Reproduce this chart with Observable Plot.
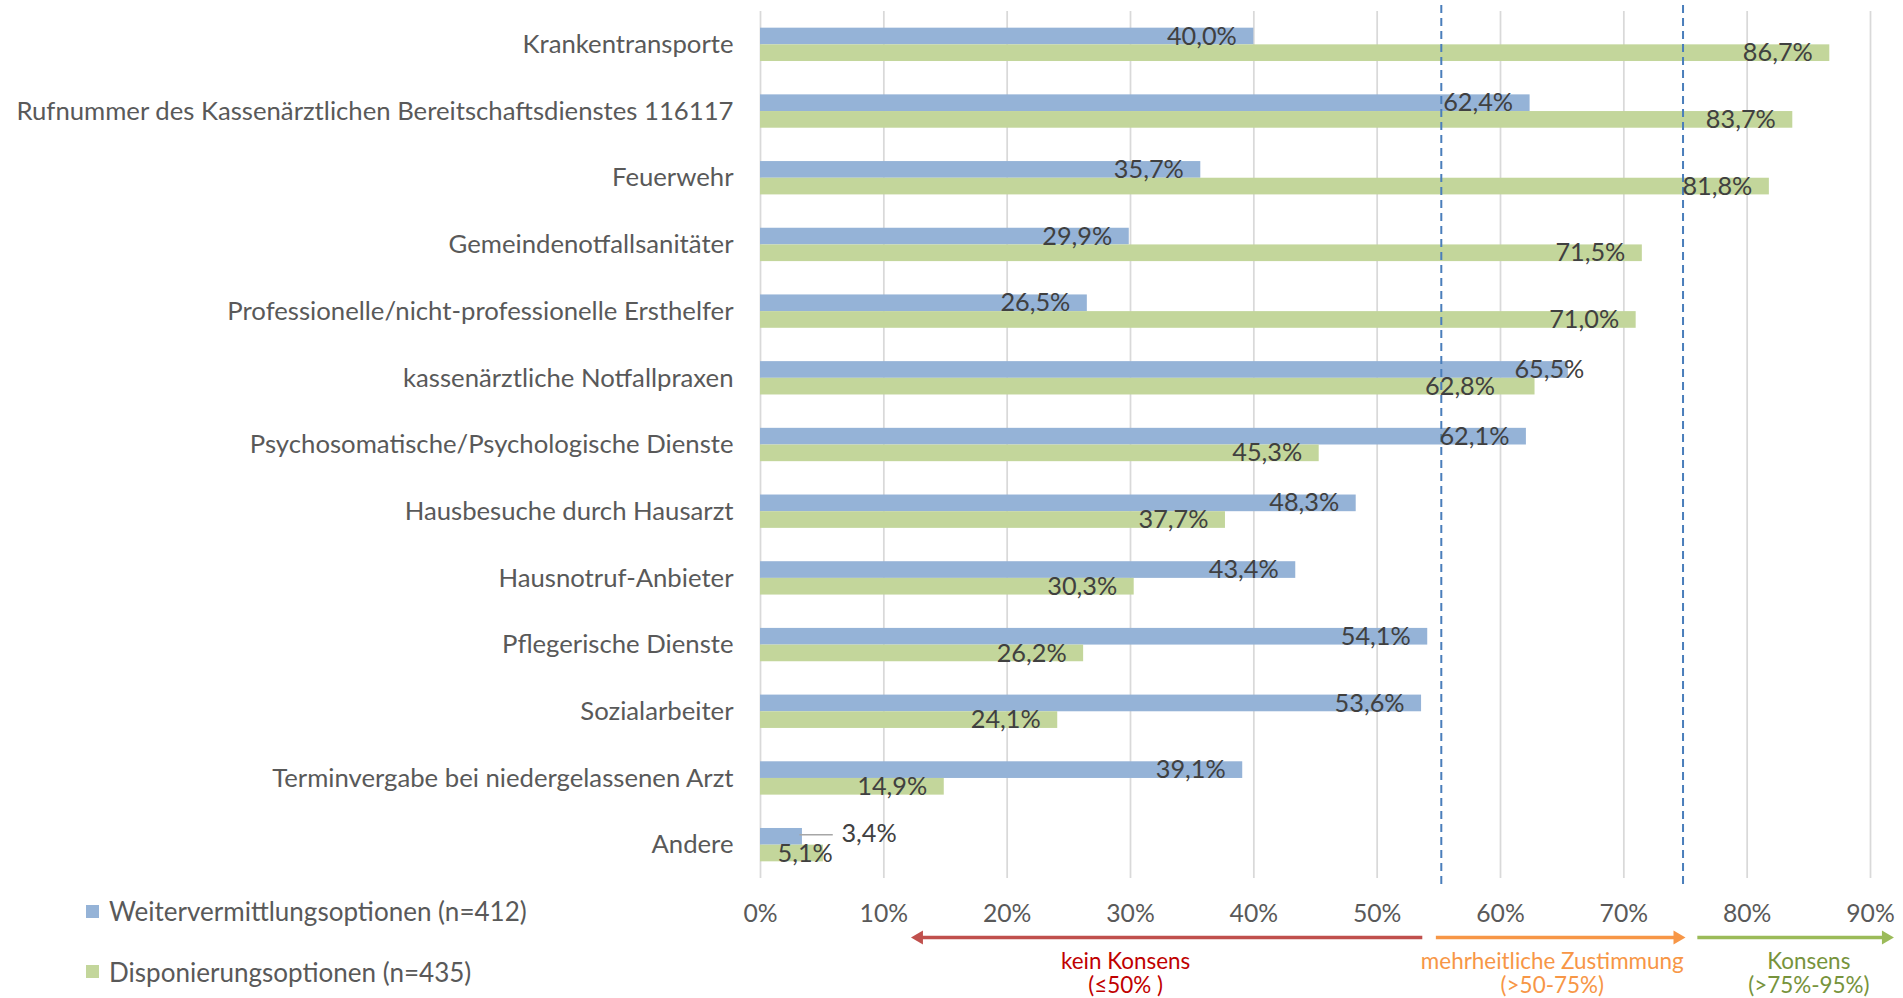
<!DOCTYPE html>
<html>
<head>
<meta charset="utf-8">
<script src="https://cdn.jsdelivr.net/npm/d3@7"></script>
<script src="https://cdn.jsdelivr.net/npm/@observablehq/plot@0.6"></script>
<style>
  html, body { margin: 0; padding: 0; background: #fff; overflow: hidden; }
  #wrap { position: relative; width: 1903px; height: 998px; }
  #wrap svg { position: absolute; left: 0; top: 0; }
  .legend { position: absolute; left: 86px; display: flex; align-items: center; font-family: Lato, sans-serif; color: #595959; white-space: nowrap; }
  .sw { width: 13px; height: 13px; margin-right: 10px; flex: none; }
</style>
</head>
<body>
<div id="wrap"></div>
<script>
// ---------- data ----------
const categories = [
  "Krankentransporte",
  "Rufnummer des Kassenärztlichen Bereitschaftsdienstes 116117",
  "Feuerwehr",
  "Gemeindenotfallsanitäter",
  "Professionelle/nicht-professionelle Ersthelfer",
  "kassenärztliche Notfallpraxen",
  "Psychosomatische/Psychologische Dienste",
  "Hausbesuche durch Hausarzt",
  "Hausnotruf-Anbieter",
  "Pflegerische Dienste",
  "Sozialarbeiter",
  "Terminvergabe bei niedergelassenen Arzt",
  "Andere"
];
const weitervermittlung = [40.0, 62.4, 35.7, 29.9, 26.5, 65.5, 62.1, 48.3, 43.4, 54.1, 53.6, 39.1, 3.4];
const disponierung      = [86.7, 83.7, 81.8, 71.5, 71.0, 62.8, 45.3, 37.7, 30.3, 26.2, 24.1, 14.9, 5.1];
const seriesNames = ["Weitervermittlungsoptionen (n=412)", "Disponierungsoptionen (n=435)"];
const xTicks = [0, 10, 20, 30, 40, 50, 60, 70, 80, 90];
const thresholdLines = [55.2, 74.8];
const zoneNames   = ["kein Konsens", "mehrheitliche Zustimmung", "Konsens"];
const zoneRanges  = ["(≤50% )", "(>50-75%)", "(>75%-95%)"];
const zoneTails   = [53.7, 54.8, 76.0];
const zoneHeads   = [12.2, 75.0, 91.9];
const zoneCenters = [29.6, 64.2, 85.0];

// ---------- styles ----------
const BLUE = "#95B3D7", GREEN = "#C3D69B";
const zoneLineColors = ["#C0504D", "#F79646", "#9BBB59"];
const zoneTextColors = ["#C00000", "#F79646", "#77933C"];
const FONT = "Lato";

const ctx = document.createElement("canvas").getContext("2d");
function fit(text, target) {
  ctx.font = `100px ${FONT}`;
  return 100 * target / ctx.measureText(text).width;
}
const catSize = fit(categories[1], 718);
const labelSize = fit("40,0%", 70);
const tickFont = fit("50%", 48.5);
const legendSize = fit(seriesNames[0], 418);
const zoneSize = fit("mehrheitliche Zustimmung", 263);

const fmt = v => v.toFixed(1).replace(".", ",") + "%";

const small = 8;
// label placement: inside end; when the two bars of a group end close together,
// push the longer one's label past its end and the shorter one's further in
function labelDx(own, other) {
  if (Math.abs(own - other) < 5) return own > other ? 16 : -40;
  return -17;
}
const wRows = categories.map((c, i) => ({category: c, value: weitervermittlung[i], dx: labelDx(weitervermittlung[i], disponierung[i])}));
const dRows = categories.map((c, i) => ({category: c, value: disponierung[i], dx: labelDx(disponierung[i], weitervermittlung[i])}));

const W = 1903, H = 998;
const mTop = 11, mBottom = 120, mLeft = 760, mRight = 33;
const step = (H - mTop - mBottom) / categories.length;
const halfBand = step / 4;        // half of bandwidth (bandwidth = step/2)
const barCenter = halfBand / 2;   // offset from band centre to each bar's centre

function insideLabels(rows, dy) {
  const groups = d3.groups(rows.filter(d => d.value >= small), d => d.dx);
  return groups.map(([dx, g]) => Plot.text(g, {
    x: "value", y: "category", text: d => fmt(d.value), textAnchor: "end",
    dx, dy, fontSize: labelSize, fill: "#404040"
  }));
}

const main = Plot.plot({
  width: W, height: H,
  marginTop: mTop, marginBottom: mBottom, marginLeft: mLeft, marginRight: mRight,
  style: {fontFamily: FONT, background: "white", overflow: "visible"},
  x: {domain: [0, 90], label: null},
  y: {domain: categories, paddingInner: 0.5, paddingOuter: 0.25, round: false, label: null},
  marks: [
    Plot.ruleX(xTicks, {stroke: "#D9D9D9", strokeWidth: 1.75}),
    Plot.barX(wRows, {x: "value", y: "category", fill: BLUE, insetBottom: halfBand}),
    Plot.barX(dRows, {x: "value", y: "category", fill: GREEN, insetTop: halfBand}),
    Plot.ruleX(thresholdLines, {stroke: "#4A7EBB", strokeWidth: 2, strokeDasharray: "8,5", insetTop: -6, insetBottom: -10}),
    ...insideLabels(wRows, -barCenter),
    ...insideLabels(dRows, barCenter),
    // small blue value: callout with leader line
    Plot.ruleY(wRows.filter(d => d.value < small), {
      x1: d => d.value - 0.2, x2: d => d.value + 2.5, y: "category",
      dy: -barCenter - 2, stroke: "#A6A6A6", strokeWidth: 1.5
    }),
    Plot.text(wRows.filter(d => d.value < small), {
      x: "value", y: "category", text: d => fmt(d.value), textAnchor: "start",
      dx: 39, dy: -barCenter - 3, fontSize: labelSize, fill: "#404040"
    }),
    // small green value: anchored at the start
    Plot.text(dRows.filter(d => d.value < small), {
      x: () => 0, y: "category", text: d => fmt(d.value), textAnchor: "start",
      dx: 17, dy: barCenter, fontSize: labelSize, fill: "#404040"
    }),
    Plot.axisX({ticks: xTicks, tickFormat: d => d + "%", tickSize: 0, tickPadding: 26, fontSize: tickFont, color: "#595959", label: null}),
    Plot.axisY({tickSize: 0, tickPadding: 27, fontSize: catSize, color: "#595959", label: null})
  ]
});

// ---------- annotation (consensus zones) ----------
const zones = zoneNames.map((n, i) => ({name: n, range: zoneRanges[i], tail: zoneTails[i], head: zoneHeads[i], center: zoneCenters[i], i}));
const unitPx = (W - mLeft - mRight) / 90;
const annMarks = [];
zones.forEach(z => {
  const dir = z.head > z.tail ? 1 : -1;
  const lineCol = zoneLineColors[z.i], textCol = zoneTextColors[z.i];
  annMarks.push(
    Plot.ruleY([z], {x1: "tail", x2: d => d.head - dir * 8 / unitPx, y: () => "arrow", stroke: lineCol, strokeWidth: 3.5}),
    Plot.dot([z], {x: "head", y: () => "arrow", symbol: "triangle2", r: 6.6, fill: lineCol, stroke: "none",
      rotate: dir > 0 ? 90 : -90, dx: -dir * 8}),
    Plot.text([z], {x: "center", y: () => "name", text: "name", fill: textCol, fontSize: zoneSize}),
    Plot.text([z], {x: "center", y: () => "range", text: "range", fill: textCol, fontSize: zoneSize})
  );
});
const ann = Plot.plot({
  width: W, height: 78,
  marginTop: 0, marginBottom: 0, marginLeft: mLeft, marginRight: mRight,
  style: {fontFamily: FONT, background: "transparent", overflow: "visible"},
  axis: null,
  x: {domain: [0, 90]},
  y: {type: "point", domain: ["arrow", "name", "range"], range: [17, 65], padding: 0, round: false},
  marks: annMarks
});

const wrap = document.getElementById("wrap");
wrap.appendChild(main);
ann.style.top = "920px";
wrap.appendChild(ann);

// ---------- legend ----------
const legendCenters = [911.5, 972];
const legendColors = [BLUE, GREEN];
seriesNames.forEach((name, i) => {
  const lh = legendSize * 1.2;
  const div = document.createElement("div");
  div.className = "legend";
  div.style.top = (legendCenters[i] - lh / 2) + "px";
  div.style.height = lh + "px";
  div.style.fontSize = legendSize + "px";
  const sw = document.createElement("div");
  sw.className = "sw";
  sw.style.background = legendColors[i];
  const t = document.createElement("span");
  t.textContent = name;
  div.appendChild(sw);
  div.appendChild(t);
  wrap.appendChild(div);
});
</script>
</body>
</html>
